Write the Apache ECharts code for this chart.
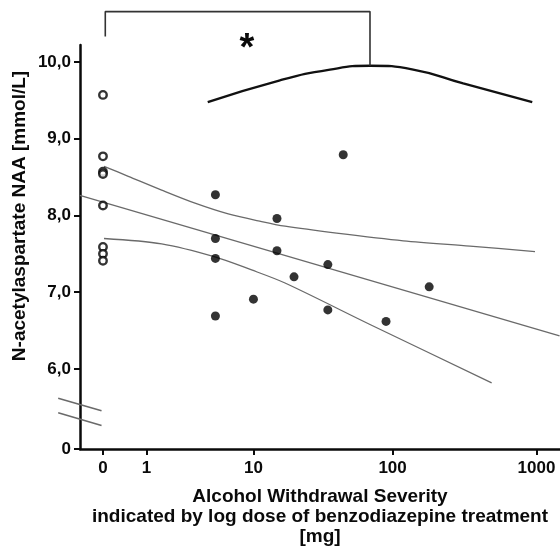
<!DOCTYPE html>
<html>
<head>
<meta charset="utf-8">
<script src="https://cdn.jsdelivr.net/npm/echarts@6/dist/echarts.min.js"></script>
<style>
  html, body { margin: 0; padding: 0; background: #fff; }
  #chart { width: 560px; height: 548px; }
</style>
</head>
<body>
<div id="chart"></div>
<script>
// dose in mg, plotted as log10(dose + 1)
const doseTicks = [0, 1, 10, 100, 1000];

// controls (no benzodiazepine, dose 0) - open circles
const controlNAA = [9.57, 8.77, 8.57, 8.54, 8.13, 7.59, 7.50, 7.41];

// patients - filled dots
const patientDose = [5, 5, 5, 5, 10, 15, 15, 20, 35, 35, 45, 90, 180];
const patientNAA = [8.27, 7.70, 7.44, 6.69, 6.91, 7.96, 7.54, 7.20, 7.36, 6.77, 8.79, 6.62, 7.07];

// regression line and 95% band (x in log10(dose+1))
const fitLogDose = [-0.16, 3.16];
const fitNAA = [8.26, 6.43];
const upperLogDose = [0.007, 0.175, 0.406, 0.637, 0.867, 1.098, 1.26, 1.617, 2.078, 2.54, 2.99];
const upperNAA = [8.64, 8.51, 8.33, 8.16, 8.02, 7.92, 7.86, 7.77, 7.67, 7.60, 7.53];
const lowerLogDose = [0.007, 0.406, 0.775, 1.029, 1.26, 1.848, 2.69];
const lowerNAA = [7.70, 7.63, 7.46, 7.29, 7.12, 6.58, 5.82];

// inverted-U curve and significance bracket
const arcLogDose = [0.725, 1.225, 1.571, 1.848, 2.147, 2.493, 2.971];
const arcNAA = [9.475, 9.76, 9.90, 9.95, 9.90, 9.72, 9.475];
const bracketLogDose = [0.016, 0.016, 1.848, 1.848];
const bracketNAA = [10.33, 10.655, 10.655, 9.95];

const yTicks = [6, 7, 8, 9, 10];
// where the "0" of the broken y axis sits
const Y_ZERO = 4.958;
// the two slashes of the axis break, [x0, y0, x1, y1] in axis units
const breakMarks = [
  [-0.31, 5.62, -0.01, 5.455],
  [-0.31, 5.43, -0.01, 5.265],
];

const lg = (d) => Math.log10(d + 1);
const pairs = (xs, ys) => xs.map((x, i) => [x, ys[i]]);

const chart = echarts.init(document.getElementById("chart"));

const FONT = "Liberation Sans, Arial, sans-serif";
const gray = "#6a6a6a";
const ink = "#0a0a0a";

const line = (data, color, width, smooth) => ({
  type: "line",
  data,
  symbol: "none",
  smooth: smooth || false,
  clip: false,
  silent: true,
  lineStyle: { color, width },
  z: 3,
});

const tickLabel = {
  color: ink,
  fontFamily: FONT,
  fontWeight: "bold",
  fontSize: 17,
};

chart.setOption({
  animation: false,
  grid: { left: 80, right: 0, top: 45, bottom: 99, outerBoundsMode: "none" },
  xAxis: {
    type: "value",
    min: -0.159,
    max: 3.163,
    splitLine: { show: false },
    axisLine: { onZero: false, lineStyle: { color: ink, width: 2.5 } },
    axisTick: {
      show: true,
      customValues: doseTicks.map(lg),
      length: 6,
      lineStyle: { color: ink, width: 2 },
    },
    axisLabel: {
      customValues: doseTicks.map(lg),
      formatter: (v) => {
        const i = doseTicks.findIndex((d) => Math.abs(lg(d) - v) < 1e-6);
        return i >= 0 ? String(doseTicks[i]) : "";
      },
      margin: 11,
      ...tickLabel,
    },
    name: "Alcohol Withdrawal Severity\nindicated by log dose of benzodiazepine treatment\n[mg]",
    nameLocation: "middle",
    nameGap: 38,
    nameTextStyle: {
      color: ink,
      fontFamily: FONT,
      fontWeight: "bold",
      fontSize: 19,
      lineHeight: 20,
      verticalAlign: "top",
    },
  },
  yAxis: {
    type: "value",
    min: Y_ZERO,
    max: 10.22,
    splitLine: { show: false },
    axisLine: { show: true, onZero: false, lineStyle: { color: ink, width: 2.5 } },
    axisTick: {
      show: true,
      customValues: [Y_ZERO, ...yTicks],
      length: 6,
      lineStyle: { color: ink, width: 2 },
    },
    axisLabel: {
      customValues: [Y_ZERO, ...yTicks],
      formatter: (v) => (Math.abs(v - Y_ZERO) < 1e-6 ? "0" : v.toFixed(1).replace(".", ",")),
      margin: 9,
      ...tickLabel,
    },
  },
  graphic: [
    {
      id: "ytitle",
      type: "text",
      x: 20,
      y: 216,
      rotation: Math.PI / 2,
      style: {
        text: "N-acetylaspartate NAA [mmol/L]",
        font: "bold 19px " + FONT,
        fill: ink,
        align: "center",
        verticalAlign: "middle",
      },
    },
    {
      id: "star",
      type: "text",
      x: 247,
      y: 31,
      style: {
        text: "*",
        font: "bold 38px " + FONT,
        fill: ink,
        align: "center",
        verticalAlign: "top",
      },
    },
  ],
  series: [
    line(pairs(fitLogDose, fitNAA), gray, 1.3),
    line(pairs(upperLogDose, upperNAA), gray, 1.3, 0.3),
    line(pairs(lowerLogDose, lowerNAA), gray, 1.3, 0.3),
    line(pairs(arcLogDose, arcNAA), "#111", 2.3, 0.5),
    line(pairs(bracketLogDose, bracketNAA), "#333", 1.6),
    {
      type: "scatter",
      data: controlNAA.map((v) => [lg(0), v]),
      symbol: "circle",
      symbolSize: 7.5,
      itemStyle: { color: "#fff", borderColor: "#000", borderWidth: 2.4 },
      z: 5,
    },
    {
      type: "scatter",
      data: patientDose.map((d, i) => [lg(d), patientNAA[i]]),
      symbol: "circle",
      symbolSize: 9,
      itemStyle: { color: "#000" },
      z: 5,
    },
  ],
});

// axis break slashes drawn across the y axis line
const toPx = (x, y) => chart.convertToPixel({ gridIndex: 0 }, [x, y]);
chart.setOption({
  graphic: breakMarks.map(([x0, y0, x1, y1], i) => {
    const a = toPx(x0, y0);
    const b = toPx(x1, y1);
    return {
      id: "break" + i,
      type: "line",
      shape: { x1: a[0], y1: a[1], x2: b[0], y2: b[1] },
      style: { stroke: gray, lineWidth: 1.5 },
      z: 10,
    };
  }),
});
</script>
</body>
</html>
